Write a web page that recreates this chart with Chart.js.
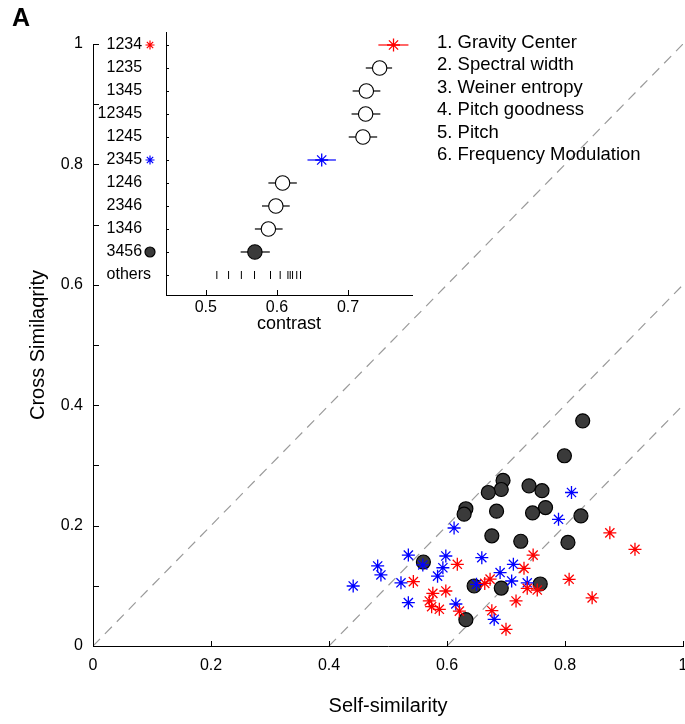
<!DOCTYPE html>
<html>
<head>
<meta charset="utf-8">
<script src="https://cdn.jsdelivr.net/npm/chart.js@4.4.1/dist/chart.umd.min.js"></script>
<style>
  html, body { margin: 0; padding: 0; background: #fff; }
  #wrap { position: relative; width: 685px; height: 724px; overflow: hidden; font-family: "Liberation Sans", Arial, sans-serif; color: #000; }
  #main { position: absolute; left: 0; top: 0; }
  #inset { position: absolute; left: 0; top: 0; }
  #panel { position: absolute; left: 12px; top: 5px; font-weight: bold; font-size: 25px; line-height: 25px; }
  #legend { position: absolute; left: 437px; top: 31px; font-size: 18.5px; line-height: 22.46px; white-space: nowrap; }
</style>
</head>
<body>
<div id="wrap">
  <canvas id="main" width="685" height="724" style="width:685px;height:724px"></canvas>
  <canvas id="inset" width="420" height="345" style="width:420px;height:345px"></canvas>
  <div id="panel">A</div>
  <div id="legend"></div>
</div>
<script>
// ---------------- DATA ----------------
// Main scatter: self-similarity (x) vs cross similarity (y)
const circleX = [0.830,0.799,0.695,0.692,0.670,0.739,0.761,0.632,0.629,0.684,0.767,0.745,0.827,0.676,0.725,0.805,0.560,0.646,0.692,0.758,0.632];
const circleY = [0.374,0.316,0.275,0.260,0.255,0.266,0.258,0.228,0.219,0.224,0.230,0.221,0.216,0.183,0.174,0.172,0.1395,0.0997,0.0963,0.103,0.0437];

const blueX = [0.811,0.789,0.612,0.5345,0.598,0.659,0.593,0.584,0.559,0.522,0.5345,0.615,0.650,0.7125,0.690,0.7096,0.736,0.680,0.4825,0.488,0.441];
const blueY = [0.255,0.2105,0.196,0.151,0.1495,0.1467,0.130,0.116,0.1346,0.105,0.072,0.0698,0.1025,0.1357,0.122,0.108,0.105,0.0443,0.133,0.118,0.0997];

const redX = [0.6175,0.543,0.598,0.576,0.570,0.574,0.587,0.621,0.664,0.673,0.746,0.7305,0.736,0.753,0.717,0.676,0.700,0.876,0.9186,0.807,0.846];
const redY = [0.1357,0.107,0.0914,0.0875,0.0748,0.0653,0.061,0.058,0.104,0.111,0.151,0.129,0.0958,0.093,0.0748,0.0586,0.0277,0.188,0.1606,0.1108,0.080];

const diagonalOffsets = [0, 0.4, 0.6];

const mainXTicks = [0, 0.2, 0.4, 0.6, 0.8, 1];
const mainXTickLabels = ['0', '0.2', '0.4', '0.6', '0.8', '1'];
const mainYTicks = [0, 0.1, 0.2, 0.3, 0.4, 0.5, 0.6, 0.7, 0.8, 0.9, 1];
const mainYTickLabels = ['0', '', '0.2', '', '0.4', '', '0.6', '', '0.8', '', '1'];

// Inset: contrast per feature combination
const rowLabels = ['1234','1235','1345','12345','1245','2345','1246','2346','1346','3456','others'];
const contrastMean = [0.764,0.7445,0.7258,0.7248,0.721,0.663,0.608,0.5985,0.588,0.569];
const contrastLow  = [0.7427,0.725,0.7065,0.705,0.701,0.643,0.588,0.579,0.569,0.549];
const contrastHigh = [0.785,0.762,0.7455,0.7455,0.741,0.683,0.628,0.618,0.608,0.590];
const othersContrast = [0.5155,0.532,0.550,0.5685,0.591,0.6046,0.6155,0.6187,0.622,0.6279,0.6332];
const insetXTicks = [0.5, 0.6, 0.7];
const insetXTickLabels = ['0.5', '0.6', '0.7'];
const rowKinds = ['red','open','open','open','open','blue','open','open','open','filled']; // marker kind per row
const markedRows = [0, 5, 9];

const featureNames = ['1. Gravity Center','2. Spectral width','3. Weiner entropy','4. Pitch goodness','5. Pitch','6. Frequency Modulation'];

// ---------------- STYLE ----------------
const FONT = "'Liberation Sans', Arial, sans-serif";
Chart.defaults.font.family = FONT;
Chart.defaults.color = '#000';

const kindStyle = {
  red:    { style: 'star',   border: '#ff0000', fill: 'rgba(0,0,0,0)', radius: 6.5, width: 1.3 },
  blue:   { style: 'star',   border: '#0000ff', fill: 'rgba(0,0,0,0)', radius: 6.5, width: 1.3 },
  open:   { style: 'circle', border: '#000000', fill: '#ffffff',       radius: 7.2, width: 1.1 },
  filled: { style: 'circle', border: '#000000', fill: '#3a3a3a',       radius: 7.2, width: 1.1 }
};
const barColor = { red: '#ff0000', blue: '#0000ff', open: '#000000', filled: '#000000' };

document.getElementById('legend').innerHTML = featureNames.map(t => '<div>' + t + '</div>').join('');

// inward tick marks drawn from the scales
const inwardTicks = {
  id: 'inwardTicks',
  afterDraw(chart, args, opts) {
    const ctx = chart.ctx, a = chart.chartArea;
    const xs = chart.scales.x, ys = chart.scales.y;
    ctx.save();
    ctx.strokeStyle = '#000';
    ctx.lineWidth = 1;
    xs.ticks.forEach(t => {
      const p = Math.round(xs.getPixelForValue(t.value)) + 0.5;
      ctx.beginPath(); ctx.moveTo(p, a.bottom); ctx.lineTo(p, a.bottom - opts.xLen); ctx.stroke();
    });
    ys.ticks.forEach(t => {
      const p = Math.round(ys.getPixelForValue(t.value)) + 0.5;
      ctx.beginPath(); ctx.moveTo(a.left, p); ctx.lineTo(a.left + opts.yLen, p); ctx.stroke();
    });
    ctx.restore();
  }
};

function setTicks(values) {
  return scale => { scale.ticks = values.map(v => ({ value: v })); };
}
function noPad(scale) {
  scale.paddingLeft = 0; scale.paddingRight = 0; scale.paddingTop = 0; scale.paddingBottom = 0;
}

// ---------------- MAIN CHART ----------------
const diagDatasets = diagonalOffsets.map(o => ({
  type: 'line',
  data: [{ x: o, y: 0 }, { x: 1, y: 1 - o }],
  borderColor: '#9a9a9a',
  borderWidth: 1.2,
  borderDash: [10, 7],
  pointRadius: 0,
  fill: false,
  order: 10
}));

const toPts = (xs, ys) => xs.map((x, i) => ({ x: x, y: ys[i] }));

new Chart(document.getElementById('main'), {
  type: 'scatter',
  data: {
    datasets: [
      ...diagDatasets,
      { data: toPts(circleX, circleY), pointStyle: 'circle', pointRadius: 7, pointBorderWidth: 1.2,
        pointBackgroundColor: '#3a3a3a', pointBorderColor: '#000', order: 5 },
      { data: toPts(blueX, blueY), pointStyle: 'star', pointRadius: 6.5, pointBorderWidth: 1.3,
        pointBorderColor: '#0000ff', pointBackgroundColor: 'rgba(0,0,0,0)', order: 3 },
      { data: toPts(redX, redY), pointStyle: 'star', pointRadius: 6.5, pointBorderWidth: 1.3,
        pointBorderColor: '#ff0000', pointBackgroundColor: 'rgba(0,0,0,0)', order: 2 }
    ]
  },
  options: {
    responsive: false,
    animation: false,
    events: [],
    layout: { autoPadding: false, padding: { top: 44, right: 2, left: 0, bottom: 0 } },
    plugins: { legend: { display: false }, tooltip: { enabled: false }, inwardTicks: { xLen: 5, yLen: 6 } },
    scales: {
      x: {
        type: 'linear', min: 0, max: 1,
        afterBuildTicks: setTicks(mainXTicks),
        afterFit: s => { s.height = 78; noPad(s); },
        grid: { display: true, drawOnChartArea: false, drawTicks: false },
        border: { display: true, color: '#000', width: 1 },
        ticks: { autoSkip: false, maxRotation: 0, padding: 10, font: { size: 16 }, color: '#000',
                 callback: (v, i) => mainXTickLabels[i] },
        title: { display: true, text: 'Self-similarity', font: { size: 20 }, color: '#000', padding: { top: 0, bottom: 6 } }
      },
      y: {
        type: 'linear', min: 0, max: 1,
        afterBuildTicks: setTicks(mainYTicks),
        afterFit: s => { s.width = 93; noPad(s); },
        grid: { display: true, drawOnChartArea: false, drawTicks: false },
        border: { display: true, color: '#000', width: 1 },
        ticks: { autoSkip: false, padding: 10, font: { size: 16 }, color: '#000',
                 callback: (v, i) => mainYTickLabels[i] },
        title: { display: true, text: 'Cross Similaqrity', font: { size: 20 }, color: '#000', padding: { top: 26, bottom: 0 } }
      }
    }
  },
  plugins: [inwardTicks]
});

// ---------------- INSET CHART ----------------
const errorBars = {
  id: 'errorBars',
  beforeDatasetsDraw(chart) {
    const ctx = chart.ctx, xs = chart.scales.x, ys = chart.scales.y;
    ctx.save();
    ctx.lineWidth = 1.2;
    contrastMean.forEach((m, i) => {
      const y = ys.getPixelForValue(i);
      ctx.strokeStyle = barColor[rowKinds[i]];
      ctx.beginPath();
      ctx.moveTo(xs.getPixelForValue(contrastLow[i]), y);
      ctx.lineTo(xs.getPixelForValue(contrastHigh[i]), y);
      ctx.stroke();
    });
    ctx.restore();
  }
};

const insetXMin = 0.444, insetXMax = 0.79;
const sideMarkerX = insetXMin - 0.0225;

// markers beside the row labels, placed through the inset scales
const sideMarkers = {
  id: 'sideMarkers',
  afterDatasetsDraw(chart) {
    const ctx = chart.ctx, xs = chart.scales.x, ys = chart.scales.y;
    const px = xs.getPixelForValue(sideMarkerX);
    markedRows.forEach(r => {
      const k = kindStyle[rowKinds[r]];
      ctx.save();
      ctx.strokeStyle = k.border;
      ctx.fillStyle = k.fill;
      ctx.lineWidth = 1.2;
      Chart.helpers.drawPoint(ctx, {
        pointStyle: k.style,
        radius: rowKinds[r] === 'filled' ? 5 : 4.5,
        rotation: 0,
        borderWidth: 1.2
      }, px, ys.getPixelForValue(r));
      ctx.restore();
    });
  }
};

new Chart(document.getElementById('inset'), {
  type: 'scatter',
  data: {
    datasets: [
      { // means
        data: contrastMean.map((m, i) => ({ x: m, y: i })),
        pointStyle: rowKinds.map(k => kindStyle[k].style),
        pointRadius: rowKinds.map(k => kindStyle[k].radius),
        pointBorderWidth: rowKinds.map(k => kindStyle[k].width),
        pointBorderColor: rowKinds.map(k => kindStyle[k].border),
        pointBackgroundColor: rowKinds.map(k => kindStyle[k].fill)
      },
      { // others
        data: othersContrast.map(v => ({ x: v, y: rowLabels.length - 1 })),
        pointStyle: 'line', rotation: 90, pointRadius: 4, pointBorderWidth: 1,
        pointBorderColor: '#000'
      }
    ]
  },
  options: {
    responsive: false,
    animation: false,
    events: [],
    layout: { autoPadding: false, padding: { top: 32, right: 8, left: 0, bottom: 0 } },
    plugins: { legend: { display: false }, tooltip: { enabled: false }, inwardTicks: { xLen: 5, yLen: 3 } },
    scales: {
      x: {
        type: 'linear', min: insetXMin, max: insetXMax,
        afterBuildTicks: setTicks(insetXTicks),
        afterFit: s => { s.height = 50; noPad(s); },
        grid: { display: true, drawOnChartArea: false, drawTicks: false },
        border: { display: true, color: '#000', width: 1 },
        ticks: { autoSkip: false, maxRotation: 0, padding: 3, font: { size: 16 }, color: '#000',
                 callback: (v, i) => insetXTickLabels[i] },
        title: { display: true, text: 'contrast', font: { size: 18 }, color: '#000', padding: { top: 0, bottom: 10 } }
      },
      y: {
        type: 'linear', reverse: true, min: -0.565, max: 10.87,
        afterBuildTicks: setTicks(rowLabels.map((_, i) => i)),
        afterFit: s => { s.width = 166; noPad(s); },
        grid: { display: true, drawOnChartArea: false, drawTicks: false },
        border: { display: true, color: '#000', width: 1 },
        ticks: { autoSkip: false, padding: 15, font: { size: 16 }, color: '#000',
                 // combination labels leave room for the marker column; "others" spans it
                 callback: (v, i) => i < contrastMean.length ? rowLabels[i] + '  ' : rowLabels[i] }
      }
    }
  },
  plugins: [inwardTicks, errorBars, sideMarkers]
});
</script>
</body>
</html>
